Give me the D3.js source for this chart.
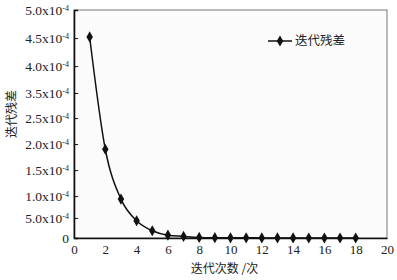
<!DOCTYPE html>
<html>
<head>
<meta charset="utf-8">
<script src="https://cdn.jsdelivr.net/npm/d3@7"></script>
<style>
  body { margin: 0; background: #fff; }
  svg { display: block; }
</style>
</head>
<body>
<div id="chart"></div>
<script>
// data
const iterations = [1, 2, 3, 4, 5, 6, 7, 8, 9, 10, 11, 12, 13, 14, 15, 16, 17, 18];
const residuals = [4.52e-4, 1.90e-4, 0.93e-4, 0.43e-4, 0.18e-4, 0.07e-4, 0.04e-4, 0.015e-4, 0.008e-4,
    0.005e-4, 0.004e-4, 0.003e-4, 0.002e-4, 0.002e-4, 0.001e-4, 0.001e-4, 0.001e-4, 0.001e-4];

// y axis as printed (note: the original skips 3.0 and spaces ticks unevenly)
const yTickValues = [0, 0.5e-4, 1.0e-4, 1.5e-4, 2.0e-4, 2.5e-4, 3.5e-4, 4.0e-4, 4.5e-4, 5.0e-4];
const yTickMantissa = ["0", "5.0", "1.0", "1.5", "2.0", "2.5", "3.5", "4.0", "4.5", "5.0"];
const yTickFrac = [0, 0.088, 0.184, 0.298, 0.412, 0.526, 0.636, 0.754, 0.877, 1];
const xTickValues = [0, 2, 4, 6, 8, 10, 12, 14, 16, 18, 20];

const seriesName = "迭代残差";
const xTitle = "迭代次数 /次";
const yTitle = "迭代残差";

// set the dimensions and margins of the graph
const margin = {top: 10, right: 10, bottom: 42, left: 74},
    width = 397 - margin.left - margin.right,
    height = 280 - margin.top - margin.bottom;

const serif = "'Liberation Serif', 'Times New Roman', serif";
const cjk = "'Noto Sans CJK SC', sans-serif";

const x = d3.scaleLinear()
    .domain([0, 20])
    .range([0, width]);

const y = d3.scaleLinear()
    .domain(yTickValues)
    .range(yTickFrac.map(f => height * (1 - f)));

const svg = d3.select("#chart")
    .append("svg")
        .attr("width", width + margin.left + margin.right)
        .attr("height", height + margin.top + margin.bottom)
    .append("g")
        .attr("transform", `translate(${margin.left}, ${margin.top})`);

// plot background + light frame on top/right
svg.append("rect")
    .attr("width", width)
    .attr("height", height)
    .attr("fill", "#fbfbfb")
    .attr("stroke", "#777")
    .attr("stroke-width", 1);

// Add the x-axis
const xAxis = svg.append("g")
    .attr("transform", `translate(0, ${height})`)
    .call(d3.axisBottom(x).tickValues(xTickValues).tickSize(0).tickPadding(7).tickFormat(d3.format("d")));
xAxis.select(".domain").attr("stroke", "#111").attr("stroke-width", 1.6);
xAxis.selectAll("text")
    .style("font-family", serif)
    .style("font-size", "13px")
    .attr("fill", "#222");

// Add the y-axis (ticks point inward)
const yAxis = svg.append("g")
    .call(d3.axisLeft(y).tickValues(yTickValues).tickSize(-4).tickPadding(5));
yAxis.select(".domain").attr("stroke", "#111").attr("stroke-width", 1.6);
yAxis.selectAll(".tick line").attr("stroke", "#111");
yAxis.selectAll("text")
    .style("font-family", serif)
    .style("font-size", "13.5px")
    .attr("fill", "#222")
    .each(function(d, i) {
        const t = d3.select(this).text("");
        t.append("tspan").text(yTickMantissa[i] + (d === 0 ? "" : "x10"));
        if (d !== 0) {
            t.append("tspan")
                .attr("dy", "-0.5em")
                .style("font-size", "8px")
                .text("-4");
        }
    });

// curve
const line = d3.line()
    .x((d, i) => x(iterations[i]))
    .y(d => y(d))
    .curve(d3.curveMonotoneX);

svg.append("path")
    .datum(residuals)
    .attr("fill", "none")
    .attr("stroke", "#111")
    .attr("stroke-width", 1.5)
    .attr("d", line);

// markers
svg.selectAll("path.marker")
    .data(residuals)
    .join("path")
    .attr("class", "marker")
    .attr("transform", (d, i) => `translate(${x(iterations[i])}, ${y(d)})`)
    .attr("d", d3.symbol(d3.symbolDiamond, 36))
    .attr("fill", "#111");

// legend
const legend = svg.append("g")
    .attr("transform", `translate(${width - 119}, 31)`);
legend.append("line")
    .attr("x1", 0).attr("x2", 24)
    .attr("stroke", "#111").attr("stroke-width", 1.5);
legend.append("path")
    .attr("transform", "translate(12, 0)")
    .attr("d", d3.symbol(d3.symbolDiamond, 36))
    .attr("fill", "#111");
legend.append("text")
    .attr("x", 27)
    .attr("dy", "0.35em")
    .style("font-family", cjk)
    .style("font-size", "12.5px")
    .attr("fill", "#222")
    .text(seriesName);

// x-axis label
svg.append("text")
    .attr("x", width / 2 - 6)
    .attr("y", height + 35)
    .style("text-anchor", "middle")
    .style("font-family", cjk)
    .style("font-size", "12px")
    .attr("fill", "#222")
    .text(xTitle);

// y-axis label
svg.append("text")
    .attr("transform", "rotate(-90)")
    .attr("x", -(height / 2) + 10)
    .attr("y", -margin.left + 12)
    .attr("dy", "0.35em")
    .style("text-anchor", "middle")
    .style("font-family", cjk)
    .style("font-size", "12px")
    .attr("fill", "#222")
    .text(yTitle);
</script>
</body>
</html>
